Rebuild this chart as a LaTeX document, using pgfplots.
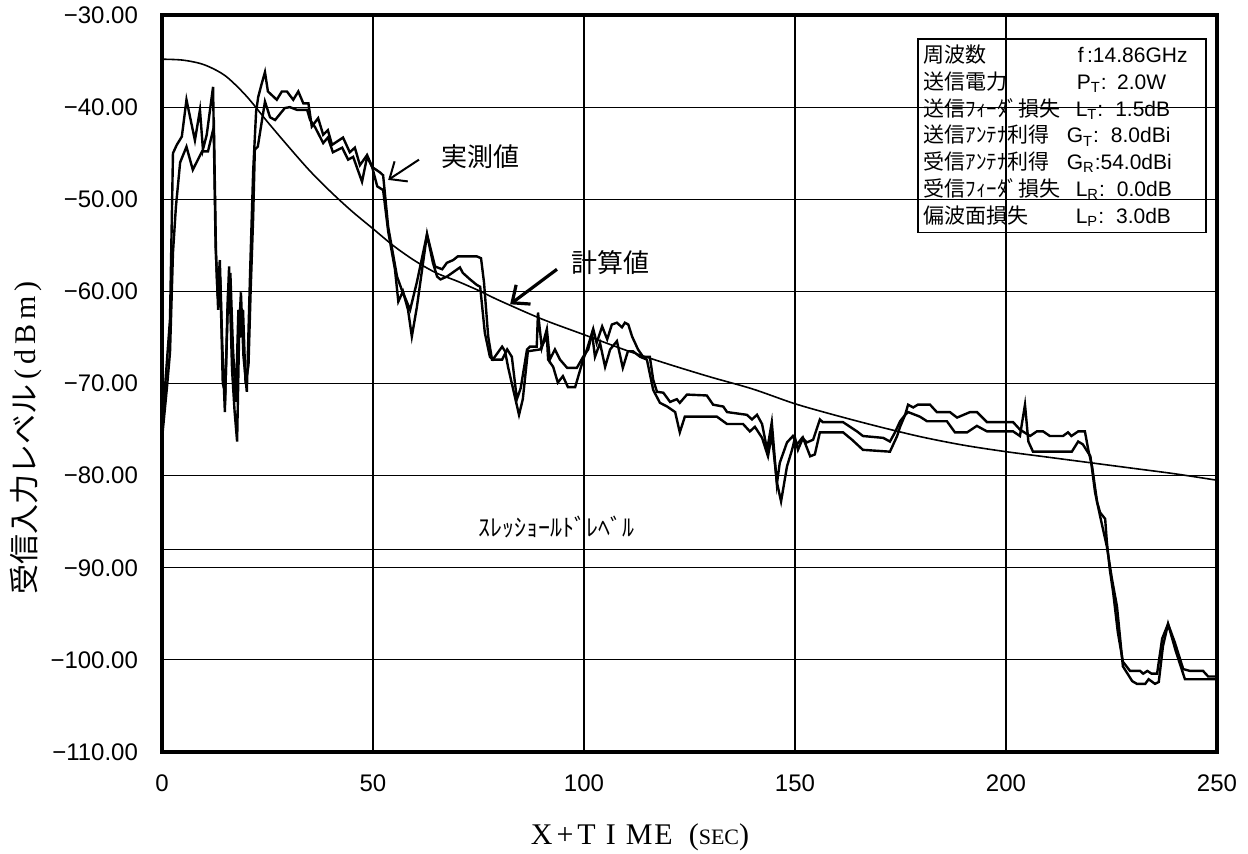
\documentclass[border=0pt]{standalone}
\usepackage{fontspec}
\setmainfont{Liberation Sans}
\newfontfamily\jp{Noto Sans CJK JP}
\newfontfamily\serif{Liberation Serif}
\usepackage{pgfplots}
\pgfplotsset{compat=1.18}
\usetikzlibrary{arrows.meta}

\pgfplotstableread{
t v
0 -34.8
5 -34.9
10 -35.4
15 -36.6
20 -38.8
25 -41.6
30 -44.3
35 -46.9
40 -49.2
45 -51.3
50 -53.2
55 -55.1
60 -56.7
65 -58.0
70 -58.9
75 -59.9
80 -61.0
90 -63.0
100 -64.7
110 -66.4
120 -67.9
130 -69.3
140 -70.6
150 -72.2
160 -73.5
170 -74.7
180 -75.8
190 -76.7
200 -77.4
210 -78.0
220 -78.6
230 -79.2
240 -79.8
250 -80.5
}\calc

\pgfplotstableread{
t v
0 -75.5
0.7 -70.5
1.9 -63
2.6 -45
3.5 -44.1
4.7 -43.2
5.8 -39.2
7.8 -43.6
9.0 -40.3
9.7 -44.6
10.6 -43
12.1 -37.8
12.7 -55
13.2 -60.5
13.7 -56.6
14.3 -66
14.9 -73.1
15.5 -62
15.9 -57.3
16.6 -68.5
17.2 -73
17.8 -76.3
18.3 -64
18.7 -60.1
19.3 -67
20.1 -70.9
20.9 -57.6
21.6 -47
22.3 -40.5
22.8 -38.9
23.6 -37.5
24.4 -36.2
25.1 -38.3
27.2 -39.2
28.4 -38.3
29.6 -38.3
31.1 -39.2
32.3 -38.3
33.5 -39.6
34.7 -39.6
35.5 -42.1
37.0 -41.2
38.2 -43.0
39.3 -42.5
40.3 -44.1
42.9 -43.3
44.5 -44.9
45.7 -44.4
46.9 -46.3
48.6 -45.2
49.8 -46.5
51.7 -47.1
52.4 -47.4
53.6 -53
55.7 -58.4
56.8 -59.8
58.8 -62
60.4 -59
62.8 -53.8
64.7 -57.3
66.4 -57.6
67.5 -56.9
69.0 -56.6
70.1 -56.2
74.6 -56.2
75.6 -56.4
76.3 -59
77.3 -64.9
78.2 -67.4
80.6 -67.4
81.8 -66.3
82.9 -67.1
84.1 -71.7
85.0 -70.5
86.5 -66.3
87.2 -66
88.8 -66
89.1 -62.3
90.0 -66.1
91.2 -64.1
91.9 -67.4
93.1 -66.3
94.3 -67.4
96.0 -68.3
98.3 -68.3
99.8 -67.1
101.0 -66.3
102.2 -64.1
103.0 -65.6
104.3 -63.8
105.5 -65.2
106.6 -63.6
107.8 -63.4
109.0 -63.9
109.7 -63.4
110.5 -63.6
111.4 -64.9
112.8 -66.3
114.0 -67.1
115.6 -67.1
116.4 -69.6
117.3 -70.9
118.8 -71.0
120.4 -72.0
122.0 -71.7
122.7 -72.1
124.4 -71.2
129.1 -71.3
130.6 -72.3
133.0 -72.5
133.9 -73.1
138.6 -73.4
139.8 -73.9
141.0 -73.4
142.2 -74.4
143.4 -77.2
144.5 -74.2
145.7 -80.9
146.4 -78.6
148.1 -76.4
149.5 -75.7
150.5 -76.6
151.7 -75.9
152.8 -76.4
154.3 -76.1
155.9 -73.9
156.6 -74.2
161.4 -74.2
164.7 -75.2
166.1 -75.7
170.9 -75.9
172.5 -76.3
173.7 -75.3
174.9 -74.1
176.1 -73.4
176.8 -72.3
178.0 -72.6
179.1 -72.3
182.0 -72.3
183.6 -73.1
186.7 -73.1
188.4 -73.7
191.5 -73.1
193.1 -73.1
195.5 -74.2
201.7 -74.2
203.3 -75.0
205.7 -75.7
207.3 -75.2
208.8 -75.2
210.4 -75.7
213.5 -75.7
214.7 -75.3
215.5 -75.7
217.1 -75.2
218.7 -75.2
219.5 -77.2
220.4 -79.0
221.6 -82.9
222.3 -84.0
223.5 -84.7
223.9 -87.2
224.6 -90.2
225.4 -92.7
226.5 -97.0
227.7 -100.2
229.4 -101.2
231.8 -101.2
232.5 -101.5
233.5 -101.2
234.5 -101.5
235.8 -101.5
237.0 -97.7
238.4 -96.1
240.0 -98.1
242.0 -101.0
243.6 -101.2
246.7 -101.2
247.9 -101.8
250 -101.8
}\measA

\pgfplotstableread{
t v
0 -76
1.2 -70.3
1.9 -66.6
2.6 -55.8
3.3 -50.8
4.3 -46
5.8 -44.3
7.3 -46.8
9.5 -44.8
10.9 -44.8
12.3 -42.1
12.8 -56
13.3 -62
13.8 -58.5
14.4 -70
15.0 -71
15.7 -60
16.2 -58
16.8 -66
17.5 -72
18.1 -62
18.6 -65
19.2 -62
19.8 -70
20.5 -68
21.0 -60
21.6 -52
22.0 -44.6
22.7 -44.3
24.4 -39.4
25.6 -41.1
26.8 -41.4
29.1 -40.1
30.3 -40.0
32.0 -40.3
34.4 -40.3
35.1 -41.4
36.3 -42.2
38.2 -43.9
39.3 -43.3
40.5 -44.9
42.7 -44.4
44.1 -45.7
45.3 -45.4
47.4 -48.1
48.6 -45.4
49.8 -46.5
51.0 -48.6
52.4 -49.0
53.6 -53.5
55.2 -57.6
56.0 -61.1
57.1 -60
58.3 -62
59.2 -64.9
60.4 -61.7
62.8 -53.8
64.2 -56.9
65.2 -58.4
66.0 -58.7
67.5 -58.4
70.6 -57.4
71.3 -58.0
73.0 -58.7
74.6 -59.3
75.4 -59.5
76.5 -64.5
77.7 -67.1
78.4 -67.4
80.6 -66.0
81.3 -66.5
82.0 -68.2
83.6 -71.4
84.6 -73.4
85.5 -71.7
86.7 -66.5
89.6 -66.3
91.2 -64.9
91.5 -67.4
92.7 -68.2
93.8 -69.9
95.0 -69.2
96.2 -70.4
97.9 -70.4
99.8 -67.4
100.7 -66.3
101.9 -64.5
102.6 -67.1
103.8 -65.6
105.0 -68.2
106.2 -66.3
107.8 -65.4
109.2 -68.3
110.4 -66.5
111.6 -66.5
113.3 -67.1
114.9 -67.4
116.4 -70.7
118.0 -72.1
119.7 -72.5
121.6 -73.1
122.7 -75.3
123.9 -73.6
131.5 -73.6
133.9 -74.4
137.7 -74.4
139.3 -75.2
140.5 -74.7
142.2 -75.9
143.6 -77.9
144.5 -75.5
145.7 -80.7
146.7 -82.8
148.1 -79.0
149.3 -77.2
150.0 -75.9
150.7 -77.2
151.9 -75.9
153.6 -77.9
154.7 -77.7
155.9 -75.3
161.4 -75.3
163.5 -76.1
166.1 -77.2
172.5 -77.4
174.2 -75.7
174.9 -74.7
176.1 -73.4
176.8 -73.1
179.6 -73.6
181.3 -74.1
186.0 -74.1
187.9 -75.3
190.8 -75.3
193.1 -74.6
195.5 -75.2
201.7 -75.2
203.3 -75.7
204.5 -72.3
205.3 -76.3
206.4 -77.4
215.6 -77.4
217.1 -76.3
218.2 -76.6
220.0 -77.9
221.1 -81.8
222.3 -84.4
223.9 -87.7
225.1 -91.2
226.3 -94.2
227.7 -100.7
229.9 -102.3
231.0 -102.6
233.0 -102.6
233.8 -102.1
235.3 -102.6
236.2 -102.4
237.2 -98.5
238.4 -96.1
240.2 -99
242.4 -102.1
250 -102.1
}\measB

\begin{document}
\begin{tikzpicture}
\path[use as bounding box] (0,0) rectangle (624pt,426.5pt);
\begin{axis}[
  scale only axis, width=527.5pt, height=368.5pt,
  at={(81pt,50.5pt)}, anchor=south west,
  xmin=0, xmax=250, ymin=-110, ymax=-30,
  xtick={0,50,100,150,200,250},
  ytick={-110,-100,-90,-80,-70,-60,-50,-40,-30},
  xticklabels={0,50,100,150,200,250},
  yticklabels={−110.00,−100.00,−90.00,−80.00,−70.00,−60.00,−50.00,−40.00,−30.00},
  grid=major, major grid style={black, line width=0.6pt},
  axis line style={line width=1.8pt},
  major tick length=0pt,
  tick label style={font=\fontsize{12}{14}\selectfont},
  xticklabel style={yshift=-8pt},
  yticklabel style={xshift=-8.5pt},
]
\addplot[black, line width=0.8pt, smooth] table {\calc};
\addplot[black, line width=1.2pt] table {\measA};
\addplot[black, line width=1.2pt] table {\measB};
\addplot[black, line width=0.8pt] coordinates {(0,-88) (250,-88)};
\draw[line width=1pt, -{Straight Barb[length=7pt,width=12pt]}] (axis cs:60.9,-45.7) -- (axis cs:53.6,-47.9);
\draw[line width=1.6pt, -{Straight Barb[length=7pt,width=12pt]}] (axis cs:93.6,-57.6) -- (axis cs:82.5,-61.4);
\end{axis}
\node[font=\jp\fontsize{13}{13}\selectfont] at (240pt,348pt) {実測値};
\node[font=\jp\fontsize{13}{13}\selectfont] at (305pt,295pt) {計算値};
\node[font=\jp\fontsize{12}{12}\selectfont] at (278pt,163pt) {ｽﾚｯｼｮｰﾙﾄﾞﾚﾍﾞﾙ};
\node[draw, line width=0.8pt, anchor=north west, inner sep=3pt, text width=138pt, align=left,
      font=\fontsize{10.5}{13.4}\selectfont] at (458.5pt,407.5pt) {%
\makebox[77pt][l]{\jp 周波数}f\,:14.86GHz\\
\makebox[76.5pt][l]{\jp 送信電力}P\textsubscript{T}: 2.0W\\
\makebox[76pt][l]{\jp 送信ﾌｨｰﾀﾞ損失}L\textsubscript{T}:\hspace{6pt}1.5dB\\
\makebox[71.5pt][l]{\jp 送信ｱﾝﾃﾅ利得}G\textsubscript{T}:\hspace{6pt}8.0dBi\\
\makebox[71.5pt][l]{\jp 受信ｱﾝﾃﾅ利得}G\textsubscript{R}:54.0dBi\\
\makebox[76pt][l]{\jp 受信ﾌｨｰﾀﾞ損失}L\textsubscript{R}:\hspace{6pt}0.0dB\\
\makebox[76pt][l]{\jp 偏波面損失}L\textsubscript{P}:\hspace{6pt}3.0dB};
\node[rotate=90] at (13pt,207.5pt) {{\jp\fontsize{15}{15}\selectfont 受信入力レベル}{\serif\fontsize{15}{15}\selectfont\,(\,d\,B\,m\,)}};
\node at (320pt,8pt) {\serif\fontsize{15}{15}\selectfont X\hspace{2pt}+\hspace{2pt}T\hspace{5pt}I\hspace{5pt}M\hspace{1pt}E\hspace{8pt}({\fontsize{11}{11}\selectfont SEC})};
\end{tikzpicture}
\end{document}
